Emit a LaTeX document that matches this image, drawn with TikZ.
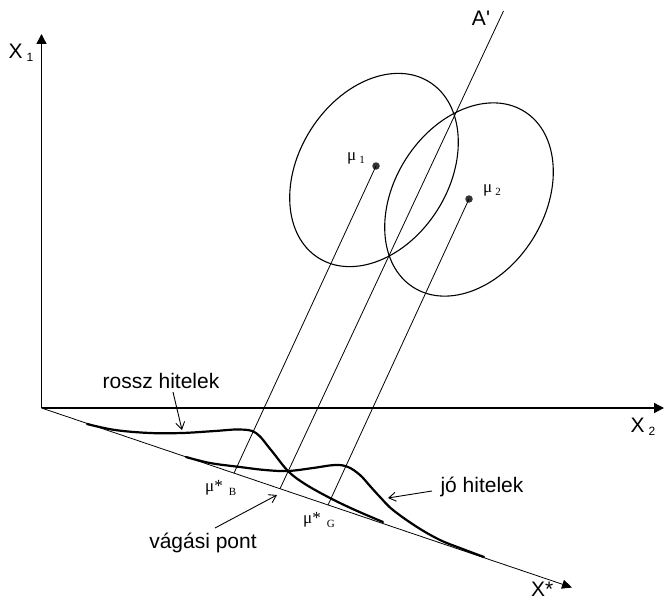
\documentclass[tikz,border=0pt]{standalone}
\usepackage{fontspec}
\setmainfont{Liberation Sans}
\newfontfamily\serifmu{Liberation Serif}
\usetikzlibrary{arrows.meta}
\begin{document}
\begin{tikzpicture}[x=1pt,y=1pt,
  axisline/.style={line width=1.4pt,-{Triangle[length=10pt,width=10pt]}},
  projline/.style={line width=0.8pt},
  ell/.style={line width=1.1pt},
  dens/.style={line width=2.2pt,line cap=round},
  ptr/.style={line width=0.9pt,-{Straight Barb[length=7pt,width=9pt]}},
  lbl/.style={inner sep=0pt,font=\fontsize{21}{24}\selectfont},
  mulbl/.style={inner sep=0pt,font=\serifmu\fontsize{17}{20}\selectfont},
  dotmark/.style={circle,fill=black!80,inner sep=0pt,minimum size=7.5pt}
]
\useasboundingbox (0,0) rectangle (664,-602);
% axes
\coordinate (O) at (41.5,-408);
\coordinate (Ytip) at (41.5,-34);
\coordinate (Xtip) at (664,-408);
\coordinate (Stip) at (572,-587.5);
\draw[axisline] (O) -- (Ytip);
\draw[axisline] (O) -- (Xtip);
\draw[projline,-{Triangle[length=10pt,width=9pt]}] (O) -- (Stip);
% ellipses
\draw[ell] (374,-170) ellipse[x radius=104pt,y radius=75pt,rotate=57.7];
\draw[ell] (469,-199.5) ellipse[x radius=104pt,y radius=75pt,rotate=57.7];
% means
\node[dotmark] (m1) at (376,-166) {};
\node[dotmark] (m2) at (469,-199) {};
% projection lines
\coordinate (mB) at (234,-473.1);
\coordinate (cut) at (280,-488.7);
\coordinate (mG) at (328,-505);
\coordinate (Atop) at (503.5,-11);
\draw[projline] (m1.center) -- (mB);
\draw[projline] (m2.center) -- (mG);
\draw[projline] (cut) -- (Atop);
% density curves
\draw[dens] plot[smooth,tension=0.6] coordinates {(87,-424) (115,-430) (150,-433) (182,-433) (215,-431) (240,-429.5) (256,-433) (271,-450) (288,-471) (305,-484) (330,-498) (355,-510) (383,-522)};
\draw[dens] plot[smooth,tension=0.6] coordinates {(186,-457) (210,-463) (240,-467) (265,-470) (288,-471) (313,-468) (335,-465) (348,-467) (360,-475) (370,-486) (380,-497) (393,-510) (417,-527) (440,-540) (460,-548) (484,-557)};
% labels
\node[lbl] (x1) at (21,-53) {X\kern4pt\raisebox{-3pt}{\fontsize{12}{12}\selectfont 1}};
\node[lbl] (x2) at (643,-427) {X\kern4pt\raisebox{-3pt}{\fontsize{12}{12}\selectfont 2}};
\node[lbl,anchor=base west] (xs) at (531,-596) {X*};
\node[lbl] (ap) at (481,-18.5) {A\textquotesingle};
\node[mulbl] (l1) at (356,-158) {μ\kern3pt\raisebox{-3pt}{\fontsize{11}{12}\selectfont 1}};
\node[mulbl] (l2) at (492,-190) {μ\kern3pt\raisebox{-3pt}{\fontsize{11}{12}\selectfont 2}};
\node[mulbl,anchor=base west] (lB) at (205,-491) {μ*\kern6pt\raisebox{-4pt}{\fontsize{11}{12}\selectfont B}};
\node[mulbl,anchor=base west] (lG) at (303,-523) {μ*\kern6pt\raisebox{-4pt}{\fontsize{11}{12}\selectfont G}};
\node[lbl] (rossz) at (161,-381) {rossz hitelek};
\node[lbl] (jo) at (482,-487) {jó hitelek};
\node[lbl] (vag) at (203,-543) {vágási pont};
% pointers
\coordinate (rs) at (173,-392);
\coordinate (rt) at (182,-430);
\coordinate (vs) at (215,-528);
\coordinate (vt) at (277,-495);
\coordinate (js) at (432,-491);
\coordinate (jt) at (388,-498);
\draw[ptr] (rs) -- (rt);
\draw[ptr] (vs) -- (vt);
\draw[ptr] (js) -- (jt);
\end{tikzpicture}
\end{document}
